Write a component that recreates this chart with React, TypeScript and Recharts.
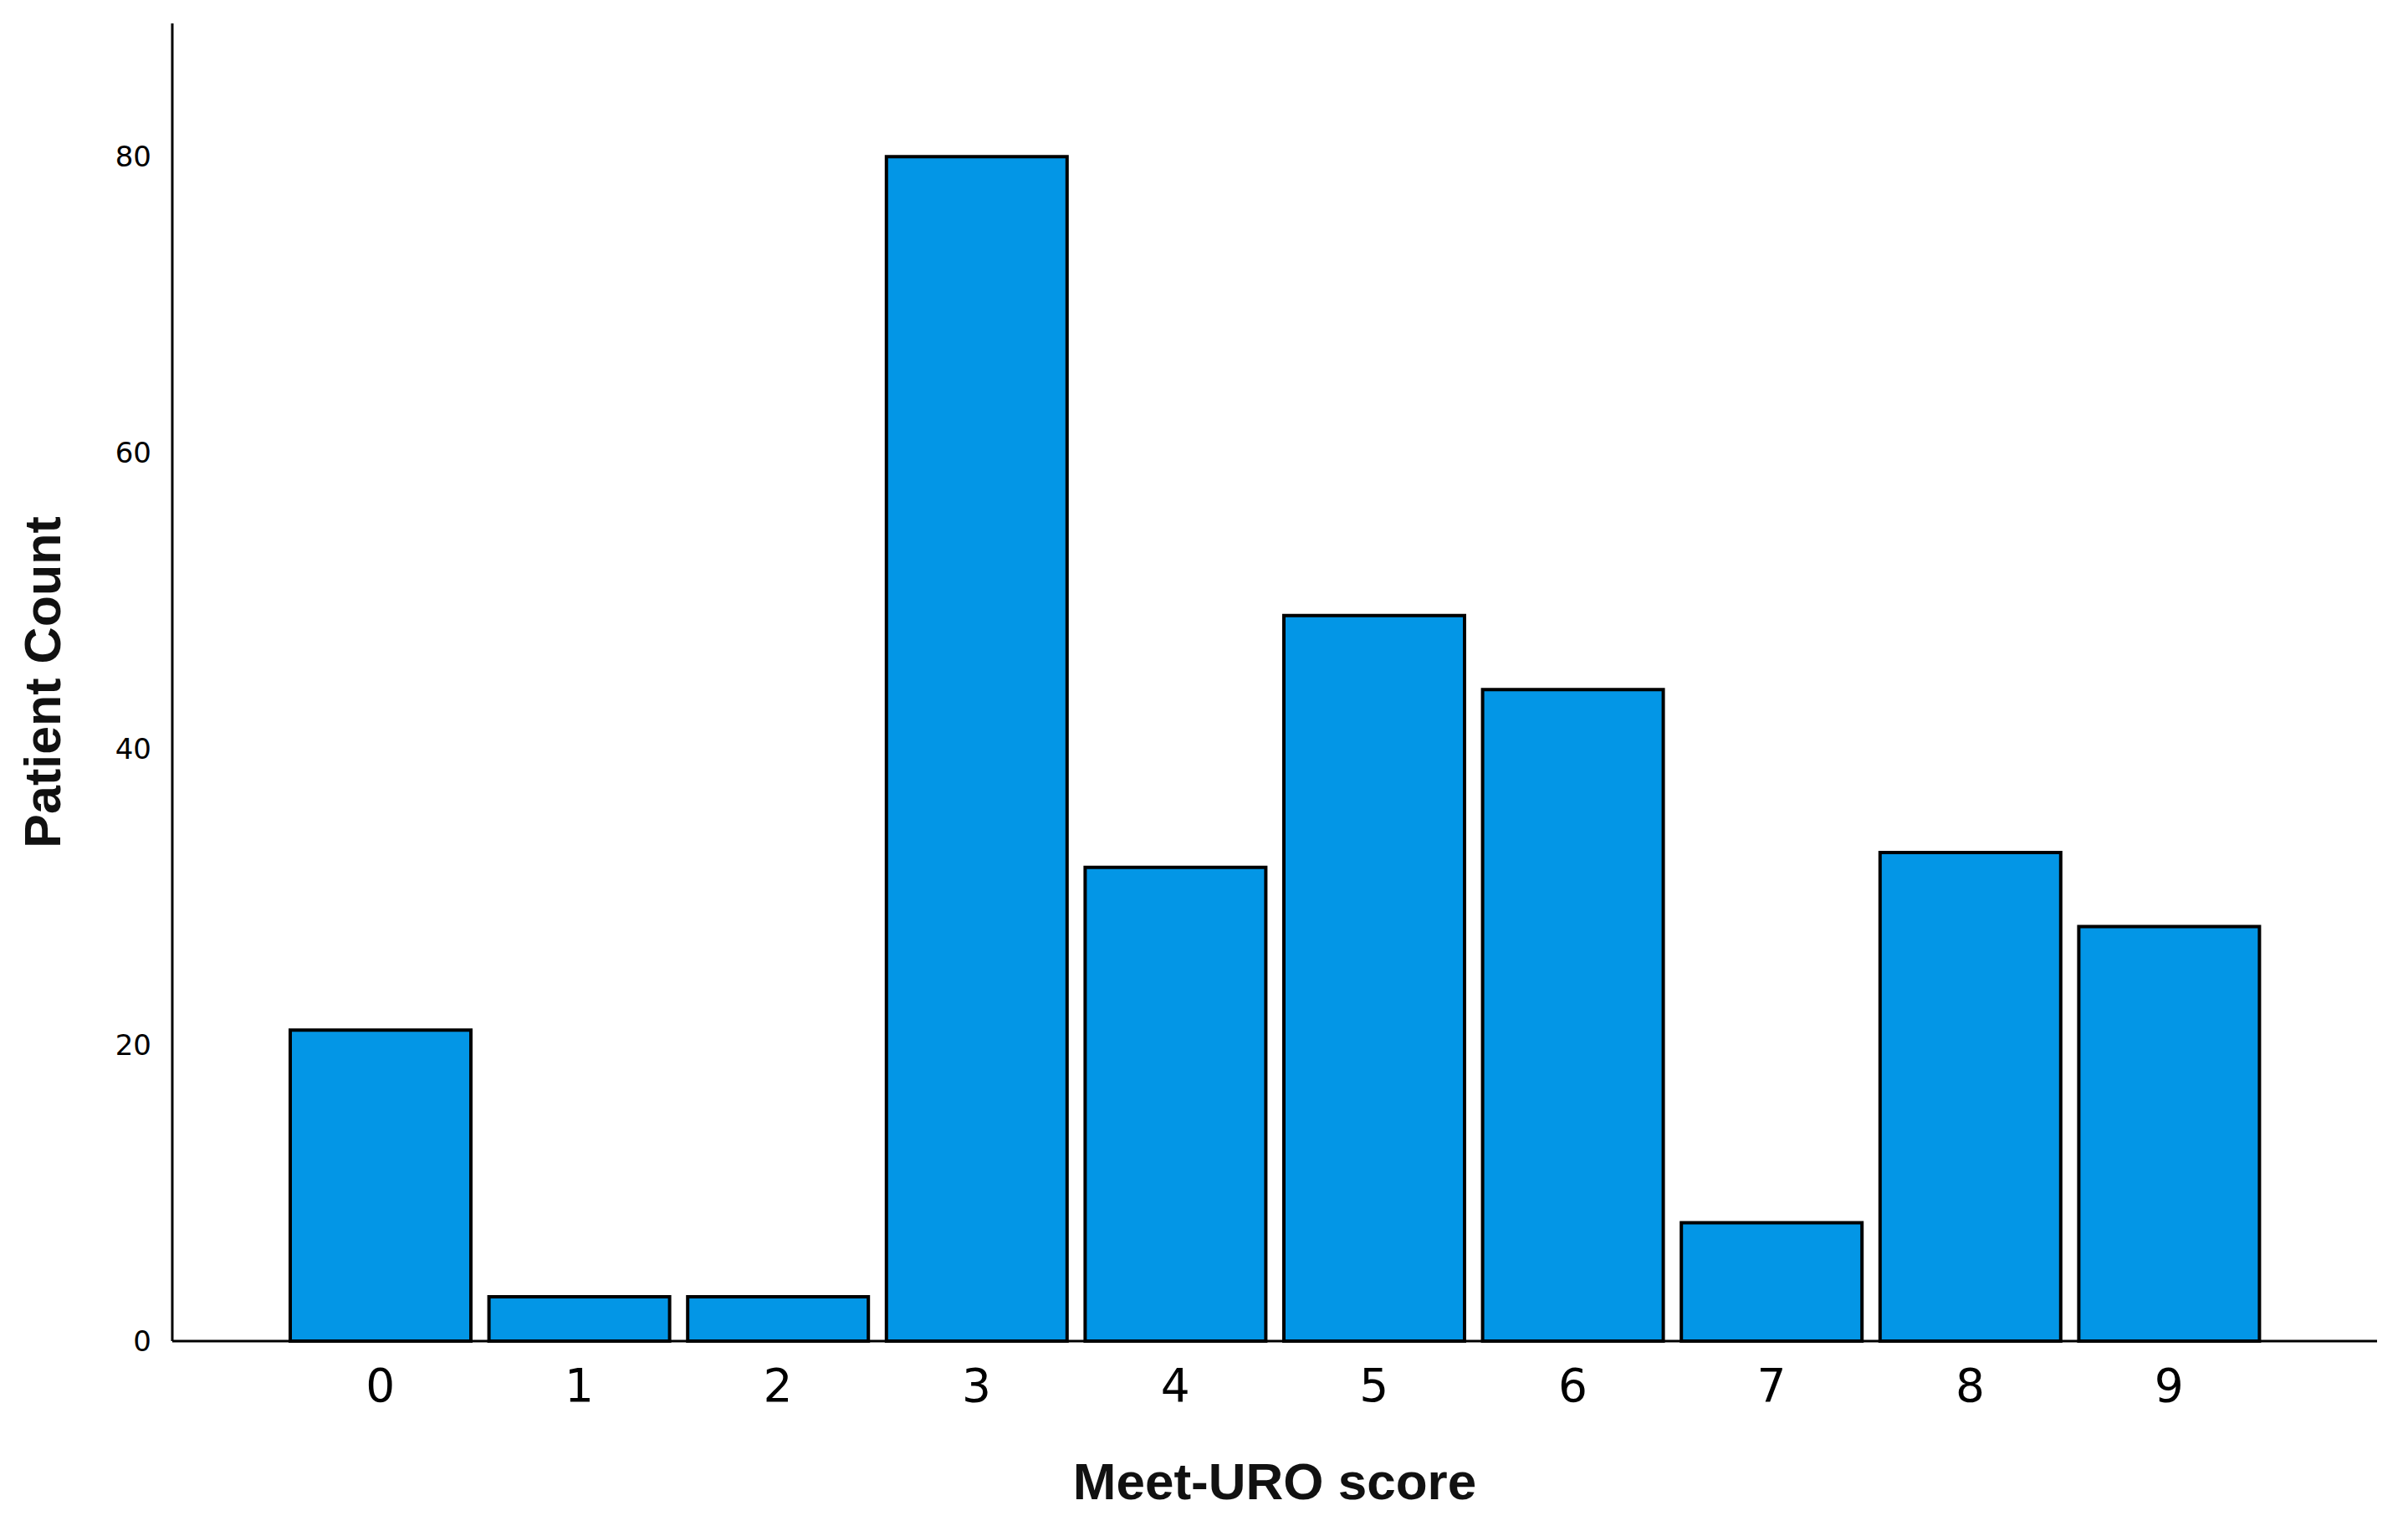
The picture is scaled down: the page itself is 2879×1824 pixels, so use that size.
import { BarChart, Bar, XAxis, YAxis, Label } from "recharts";

const SCORES = ["0", "1", "2", "3", "4", "5", "6", "7", "8", "9"];
const PATIENT_COUNTS = [21, 3, 3, 80, 32, 49, 44, 8, 33, 28];
const Y_TICKS = [0, 20, 40, 60, 80];

const data = SCORES.map((score, i) => ({ score, count: PATIENT_COUNTS[i] }));

const FONT = "'DejaVu Sans', sans-serif";
const TITLE_FONT = "'Liberation Sans', Arial, sans-serif";

function XTitle({ viewBox }: { viewBox?: { x: number; y: number; width: number } }) {
    if (!viewBox) return null;
    const cx = viewBox.x + viewBox.width / 2;
    return (
        <text
            x={cx}
            y={1770}
            textAnchor="middle"
            dominantBaseline="central"
            fontFamily={TITLE_FONT}
            fontWeight="bold"
            fontSize={62}
            fill="#111"
        >
            Meet-URO score
        </text>
    );
}

function YTitle({ viewBox }: { viewBox?: { x: number; y: number; height: number } }) {
    if (!viewBox) return null;
    const cx = 51;
    const cy = viewBox.y + viewBox.height / 2;
    return (
        <text
            x={cx}
            y={cy}
            transform={`rotate(-90 ${cx} ${cy})`}
            textAnchor="middle"
            dominantBaseline="central"
            fontFamily={TITLE_FONT}
            fontWeight="bold"
            fontSize={61}
            fill="#111"
        >
            Patient Count
        </text>
    );
}

export default function App() {
    return (
        <div style={{ position: "absolute", left: 0, top: 0, background: "#fff" }}>
            <BarChart
                width={2879}
                height={1824}
                data={data}
                margin={{ top: 28, right: 37, left: 0, bottom: 0 }}
                barCategoryGap={11}
            >
                <XAxis
                    dataKey="score"
                    height={221}
                    padding={{ left: 130, right: 130 }}
                    axisLine={{ stroke: "#000", strokeWidth: 3 }}
                    tickLine={false}
                    tickSize={0}
                    tickMargin={33}
                    tick={{ fill: "#000", fontSize: 55, fontFamily: FONT }}
                >
                    <Label content={<XTitle />} />
                </XAxis>
                <YAxis
                    width={206}
                    domain={[0, 89]}
                    ticks={Y_TICKS}
                    axisLine={{ stroke: "#000", strokeWidth: 3 }}
                    tickLine={false}
                    tickSize={0}
                    tickMargin={25}
                    tick={{ fill: "#000", fontSize: 34, fontFamily: FONT }}
                >
                    <Label content={<YTitle />} />
                </YAxis>
                <Bar
                    dataKey="count"
                    fill="#0396e6"
                    stroke="#000"
                    strokeWidth={4}
                    isAnimationActive={false}
                />
            </BarChart>
        </div>
    );
}
